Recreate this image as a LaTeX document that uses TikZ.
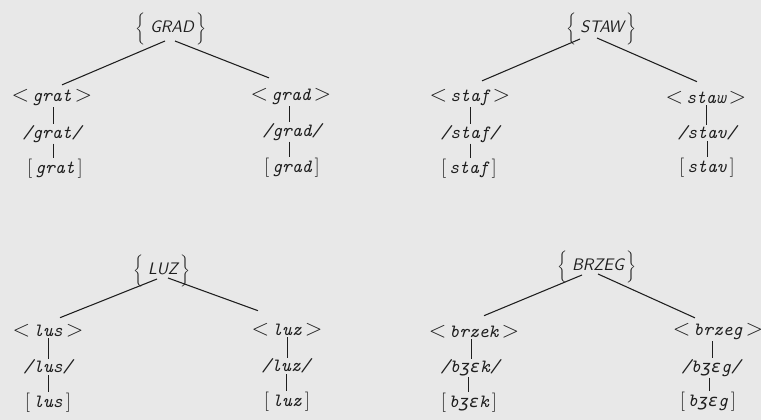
\documentclass[tikz,border=0pt]{standalone}
\usepackage{fontspec}
\definecolor{ink}{RGB}{30,30,30}
\definecolor{paper}{RGB}{232,232,232}
\newfontfamily\ipafont{DejaVu Sans Mono}
\newcommand{\ipa}[1]{{\ipafont\itshape\fontsize{12.5}{15}\selectfont #1}}
\newcommand{\tallbrace}[1]{$\left#1\rule[-9pt]{0pt}{25pt}\right.$}
\newcommand{\lt}{{\fontsize{19}{20}\selectfont$<$}}
\newcommand{\gt}{{\fontsize{19}{20}\selectfont$>$}}
\newcommand{\lb}{{\fontsize{15}{16}\selectfont$[$}}
\newcommand{\rb}{{\fontsize{15}{16}\selectfont$]$}}
\tikzset{
  word/.style={inner sep=0.5pt, font=\fontsize{14}{15}\selectfont\ttfamily\itshape, text=ink},
  rootw/.style={inner sep=0pt, font=\fontsize{12.5}{15}\selectfont\sffamily\itshape, text=ink},
  edge/.style={draw=ink, line width=0.8pt},
  vedge/.style={draw=ink, line width=0.7pt},
}
\begin{document}
\begin{tikzpicture}[x=0.75pt,y=-0.75pt]
\fill[paper] (0,0) rectangle (761,420);
\useasboundingbox (0,0) rectangle (761,420);

% ---------- GRAD ----------
\node[rootw] (G0) at (172,28) {\tallbrace\{\,GRAD\,\tallbrace\}};
\node[word] (G1) at (52,98) {\lt\,grat\,\gt};
\node[word] (G1b) at (52,134) {/grat/};
\node[word] (G1c) at (55,169) {\lb\,grat\,\rb};
\node[word] (G2) at (291,97) {\lt\,grad\,\gt};
\node[word] (G2b) at (292,132) {/grad/};
\node[word] (G2c) at (292,168) {\lb\,grad\,\rb};
\draw[edge] ([shift={(-7,13)}]G0.center) -- ([shift={(10,-4)}]G1.north);
\draw[edge] ([shift={(3,13)}]G0.center) -- ([shift={(-22,-10)}]G2.north);
\draw[vedge] ([xshift=1pt]G1.south) -- ([xshift=1pt]G1.south |- G1b.north);
\draw[vedge] ([xshift=1pt]G1b.south) -- ([xshift=1pt]G1b.south |- G1c.north);
\draw[vedge] ([xshift=-1pt]G2.south) -- ([xshift=-1pt]G2.south |- G2b.north);
\draw[vedge] ([xshift=-2pt]G2b.south) -- ([xshift=-2pt]G2b.south |- G2c.north);

% ---------- STAW ----------
\node[rootw] (S0) at (602,28) {\tallbrace\{\,STAW\,\tallbrace\}};
\node[word] (S1) at (470,98) {\lt\,staf\,\gt};
\node[word] (S1b) at (470,134) {/staf/};
\node[word] (S1c) at (469,169) {\lb\,staf\,\rb};
\node[word] (S2) at (706,98) {\lt\,staw\,\gt};
\node[word] (S2b) at (707,133) {/stav/};
\node[word] (S2c) at (707,168) {\lb\,stav\,\rb};
\draw[edge] ([shift={(-22,11)}]S0.center) -- ([shift={(12,-8)}]S1.north);
\draw[edge] ([shift={(-5,10)}]S0.center) -- ([shift={(-9,-9)}]S2.north);
\draw[vedge] (S1.south) -- (S1.south |- S1b.north);
\draw[vedge] (S1b.south) -- (S1b.south |- S1c.north);
\draw[vedge] (S2.south) -- (S2.south |- S2b.north);
\draw[vedge] (S2b.south) -- (S2b.south |- S2c.north);

% ---------- LUZ ----------
\node[rootw] (L0) at (163,270) {\tallbrace\{\,LUZ\,\tallbrace\}};
\node[word] (L1) at (48,331) {\lt\,lus\,\gt};
\node[word] (L1b) at (48,367) {/lus/};
\node[word] (L1c) at (48,403) {\lb\,lus\,\rb};
\node[word] (L2) at (287,330) {\lt\,luz\,\gt};
\node[word] (L2b) at (286,366) {/luz/};
\node[word] (L2c) at (287,402) {\lb\,luz\,\rb};
\draw[edge] ([shift={(-6,9)}]L0.center) -- ([shift={(12,-6)}]L1.north);
\draw[edge] ([shift={(5,8)}]L0.center) -- ([shift={(-29,-12)}]L2.north);
\draw[vedge] (L1.south) -- (L1.south |- L1b.north);
\draw[vedge] (L1b.south) -- (L1b.south |- L1c.north);
\draw[vedge] (L2.south) -- (L2.south |- L2b.north);
\draw[vedge] (L2b.south) -- (L2b.south |- L2c.north);

% ---------- BRZEG ----------
\node[rootw] (B0) at (598,266) {\tallbrace\{\,BRZEG\,\tallbrace\}};
\node[word] (B1) at (474,332) {\lt\,brzek\,\gt};
\node[word] (B1b) at (470,368) {/b\ipa{ʒɛ}k/};
\node[word] (B1c) at (469,403) {\lb\,b\ipa{ʒɛ}k\,\rb};
\node[word] (B2) at (718,332) {\lt\,brzeg\,\gt};
\node[word] (B2b) at (711,368) {/b\ipa{ʒɛ}g/};
\node[word] (B2c) at (708,402) {\lb\,b\ipa{ʒɛ}g\,\rb};
\draw[edge] ([shift={(-16,9)}]B0.center) -- ([shift={(10,-9)}]B1.north);
\draw[edge] ([shift={(0,8)}]B0.center) -- ([shift={(-23,-5)}]B2.north);
\draw[vedge] ([xshift=-2pt]B1.south) -- ([xshift=-2pt]B1.south |- B1b.north);
\draw[vedge] ([xshift=-1pt]B1b.south) -- ([xshift=-1pt]B1b.south |- B1c.north);
\draw[vedge] ([xshift=-4pt]B2.south) -- ([xshift=-4pt]B2.south |- B2b.north);
\draw[vedge] ([xshift=-1pt]B2b.south) -- ([xshift=-1pt]B2b.south |- B2c.north);
\end{tikzpicture}
\end{document}
